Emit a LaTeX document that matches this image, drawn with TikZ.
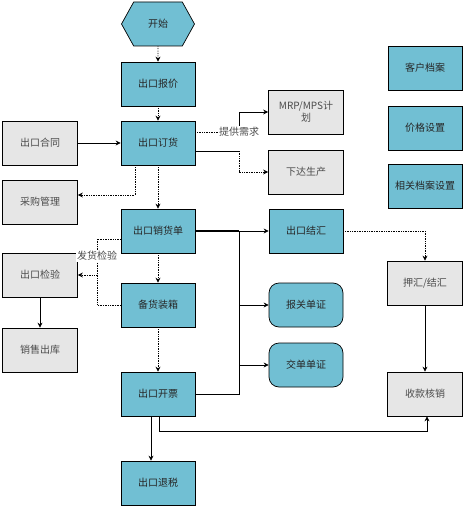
\documentclass[tikz,border=0pt]{standalone}
\usepackage{fontspec}
\newfontfamily\cjk{Noto Sans CJK SC}
\usetikzlibrary{arrows.meta,shapes.symbols}
\definecolor{procblue}{RGB}{113,191,211}
\definecolor{docgray}{RGB}{230,230,230}

\begin{document}
\begin{tikzpicture}[x=1pt,y=-1pt,>={Stealth[length=5pt,width=5pt]},
  font=\cjk\fontsize{10}{12}\selectfont,line width=0.7pt,
  proc/.style={draw,fill=procblue,text=black!85,minimum width=74pt,minimum height=44pt,inner sep=1pt},
  doc/.style={draw,fill=docgray,text=black!70,minimum width=75pt,minimum height=44pt,inner sep=1pt},
  card/.style={proc,rounded corners=10pt},
  start/.style={proc,shape=signal,signal to=east and west,signal pointer angle=122,minimum width=73pt},
  dotline/.style={densely dotted}]
\useasboundingbox (0,0) rectangle (465,508);
% main column
\node[start] (start) at (158,24) {开始};
\node[proc] (quote) at (158,84) {出口报价};
\node[proc] (order) at (158,143) {出口订货};
\node[proc] (sales) at (158,231) {出口销货单};
\node[proc] (pack) at (158,305) {备货装箱};
\node[proc] (invoice) at (158,394) {出口开票};
\node[proc] (rebate) at (158,483) {出口退税};
% left column
\node[doc] (contract) at (40,143) {出口合同};
\node[doc] (purchase) at (40,202) {采购管理};
\node[doc] (inspect) at (40,275) {出口检验};
\node[doc] (stockout) at (40,350) {销售出库};
% right side
\node[doc,align=center] (mrp) at (306,112) {MRP/MPS计\\划};
\node[doc] (produce) at (306,172) {下达生产};
\node[proc] (settle) at (306,231) {出口结汇};
\node[card] (customs) at (306,305) {报关单证};
\node[card] (handin) at (306,365) {交单单证};
\node[doc] (nego) at (425,283) {押汇/结汇};
\node[doc] (verify) at (425,394) {收款核销};
% settings
\node[proc] (client) at (425,68) {客户档案};
\node[proc] (price) at (425,128) {价格设置};
\node[proc] (archive) at (425,186) {相关档案设置};

\coordinate (ask) at (239,132);
\coordinate (trunk) at (239,231);

\draw[dotline,->] (start) -- (quote);
\draw[dotline,->] (quote) -- (order);
\draw[->] (contract) -- (order);
\draw[dotline,->] ([xshift=-23pt]order.south) |- ([yshift=7pt]purchase.east);
\draw[dotline] ([yshift=11pt]order.east) -- (ask);
\draw[->] (ask) |- (mrp.west);
\node[fill=white,inner sep=1pt,text=black!70] (asklabel) at (ask) {提供需求};
\draw ([yshift=-8pt]order.east) -- ++(44,0) coordinate (plan);
\draw[dotline,->] (plan) |- (produce.west);
\draw[dotline,->] (order) -- (sales);

\draw[dotline] ([yshift=-8pt]sales.west) -- ++(-23,0) coordinate (check);
\draw[dotline,->] (check) |- (inspect.east);
\draw[dotline] (check) |- (pack.west);
\node[fill=white,inner sep=1pt,text=black!70] (checklabel) at (97,256) {发货检验};
\draw[->] (inspect) -- (stockout);
\draw[dotline,->] (sales) -- (pack);
\draw[dotline,->] (pack) -- (invoice);

\draw[line width=1.4pt] (sales.east) -- (trunk);
\draw[->] (trunk) -- (settle);
\draw (trunk) |- (invoice.east);
\draw[->] (trunk |- customs) -- (customs);
\draw[->] (trunk |- handin) -- (handin);
\draw[dotline,->] (settle.east) -| (nego.north);
\draw[->] (nego) -- (verify);
\draw[->] ([xshift=1pt]invoice.south) -- ++(0,15) -| ([xshift=2pt]verify.south);
\draw[->] ([xshift=-7pt]invoice.south) -- ([xshift=-7pt]rebate.north);
\end{tikzpicture}
\end{document}
